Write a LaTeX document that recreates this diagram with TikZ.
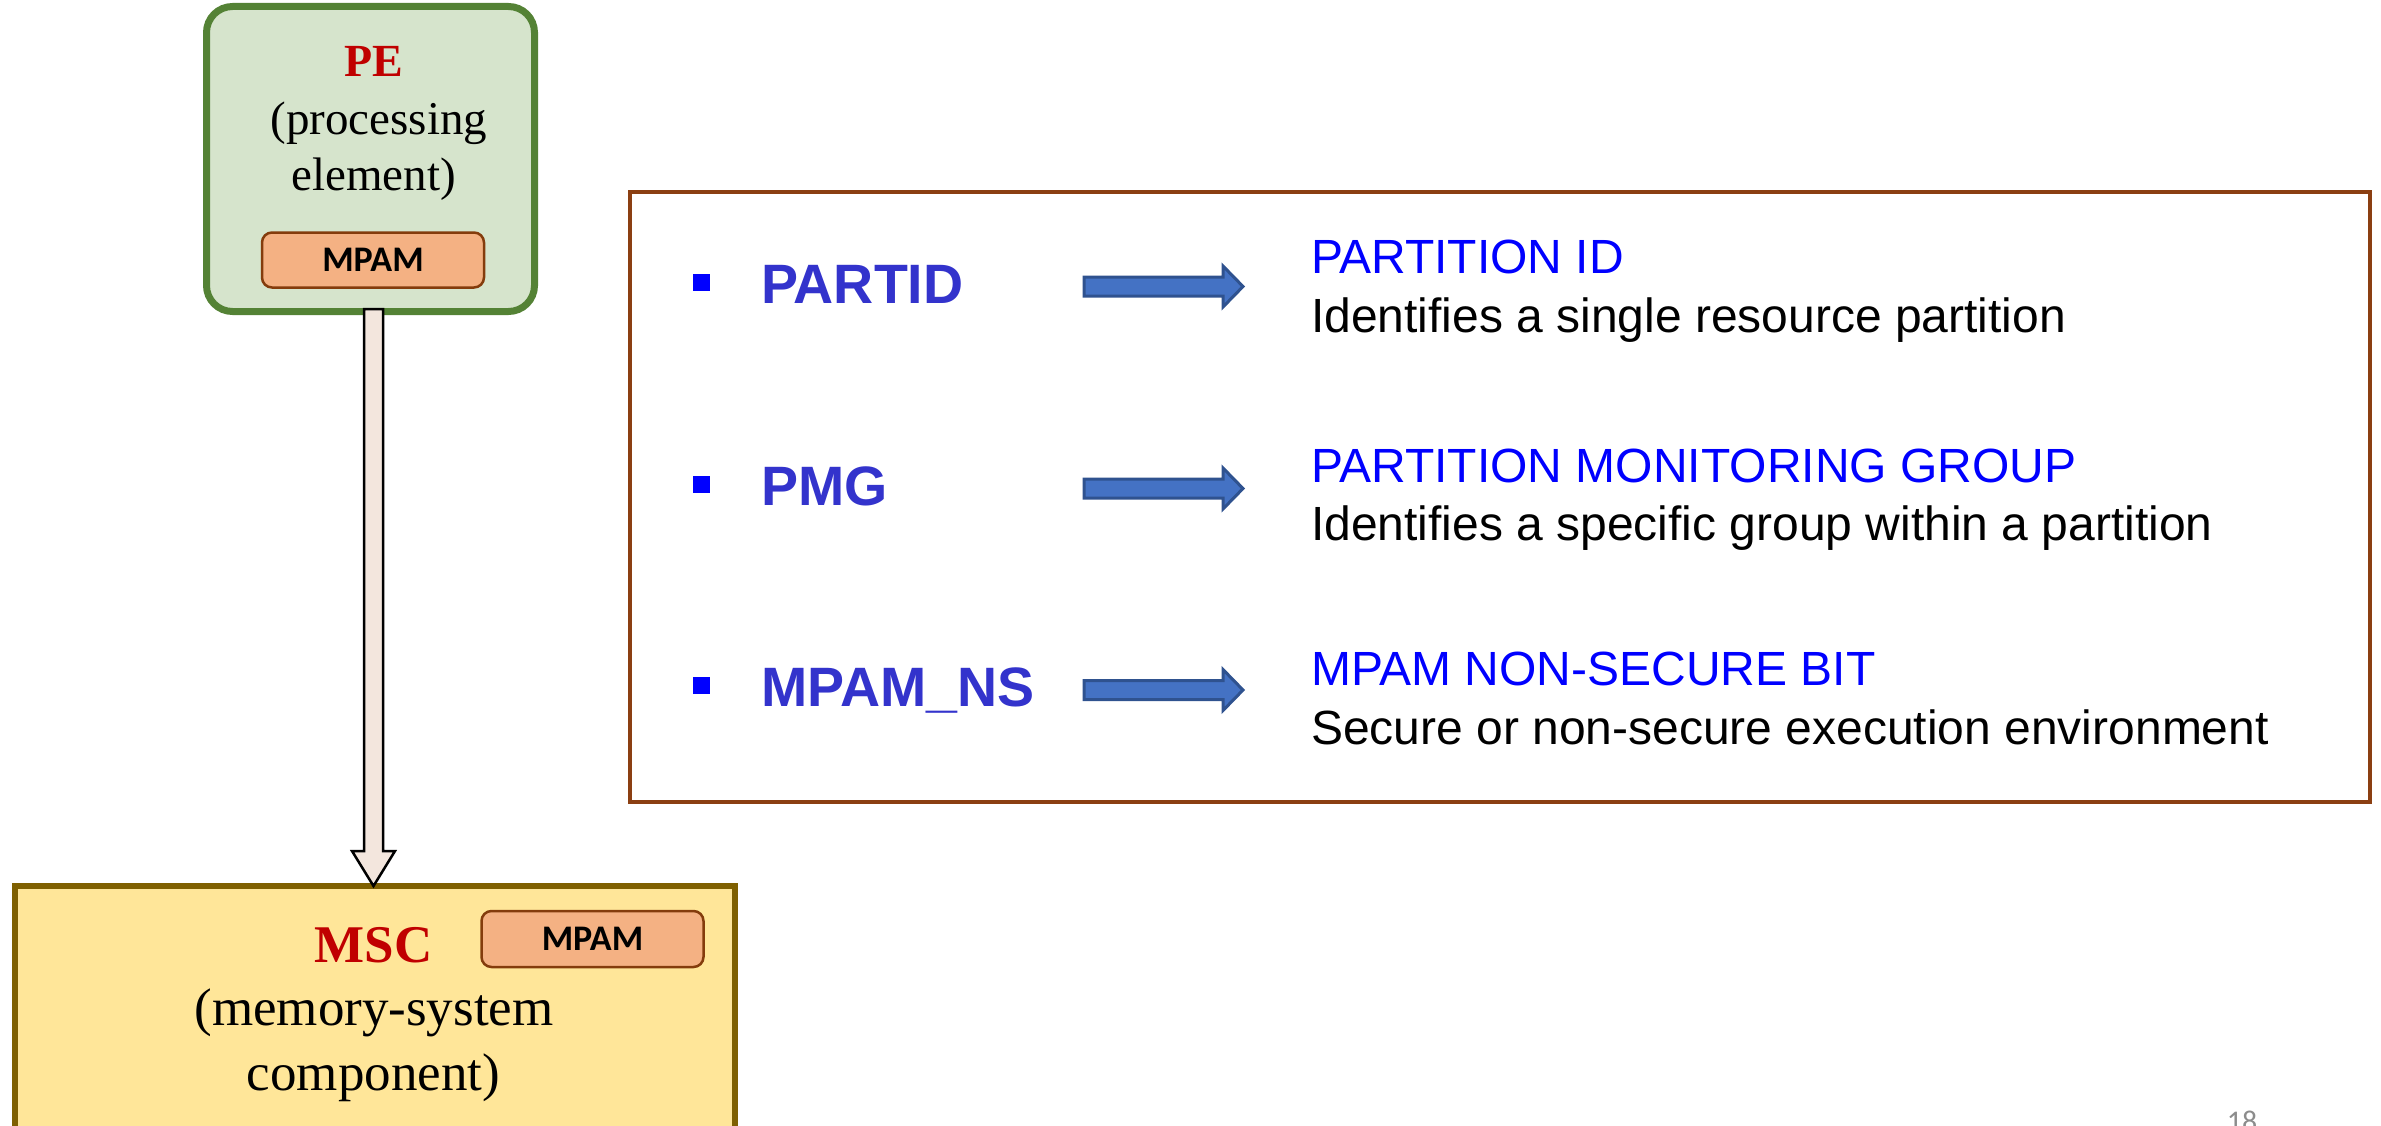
\documentclass[tikz,border=0pt]{standalone}
\usepackage{fontspec}
\setmainfont{Liberation Serif}
\newfontfamily\arialf{Liberation Sans}
\newfontfamily\calibrif{Carlito}
\usetikzlibrary{calc}

\definecolor{peFill}{HTML}{D6E4CC}
\definecolor{peLine}{HTML}{548235}
\definecolor{mscFill}{HTML}{FFE699}
\definecolor{mscLine}{HTML}{7F6000}
\definecolor{mpamFill}{HTML}{F4B183}
\definecolor{mpamLine}{HTML}{843C0C}
\definecolor{flowFill}{HTML}{F3E6DD}
\definecolor{infoLine}{HTML}{8B3F12}
\definecolor{keyBlue}{HTML}{3333CC}
\definecolor{pureBlue}{HTML}{0000FF}
\definecolor{titleRed}{HTML}{C00000}
\definecolor{arrowFill}{HTML}{4472C4}
\definecolor{arrowLine}{HTML}{2F528F}
\definecolor{pageGray}{HTML}{8C8C8C}

\begin{document}
\begin{tikzpicture}[x=1pt,y=-1pt,
  every node/.style={inner sep=0pt, outer sep=0pt},
  pebox/.style={draw=peLine, fill=peFill, line width=7pt, rounded corners=26pt,
    minimum width=328pt, minimum height=305pt},
  mscbox/.style={draw=mscLine, fill=mscFill, line width=6pt,
    minimum width=720pt, minimum height=280pt},
  mpambox/.style={draw=mpamLine, fill=mpamFill, line width=2.5pt, rounded corners=10pt,
    minimum width=222pt, minimum height=55pt,
    font=\calibrif\bfseries\fontsize{36}{40}\selectfont},
  infobox/.style={draw=infoLine, line width=4pt, minimum width=1740pt, minimum height=610pt},
  petitle/.style={anchor=base, text=titleRed, font=\bfseries\fontsize{46}{50}\selectfont},
  petext/.style={anchor=base, font=\fontsize{47}{52}\selectfont},
  msctitle/.style={anchor=base, text=titleRed, font=\bfseries\fontsize{53}{58}\selectfont},
  msctext/.style={anchor=base, font=\fontsize{53}{58}\selectfont},
  bulletsq/.style={fill=pureBlue, minimum width=17pt, minimum height=17pt},
  keylabel/.style={anchor=base west, text=keyBlue, font=\arialf\bfseries\fontsize{55.5}{60}\selectfont},
  desctitle/.style={anchor=base west, text=pureBlue, font=\arialf\fontsize{48}{52}\selectfont},
  desctext/.style={anchor=base west, font=\arialf\fontsize{48}{52}\selectfont},
  flowarrow/.style={draw=black, fill=flowFill, line width=2.5pt, line join=miter},
  blockarrow/.style={draw=arrowLine, fill=arrowFill, line width=3pt, line join=miter}
]
\useasboundingbox (0,0) rectangle (2381,1126);

% processing element
\node[pebox] (pe) at (370.5,159) {};
\node[petitle] (peTitle) at (373.5,77) {PE};
\node[petext] (peLineA) at (379,135) {(processing};
\node[petext] (peLineB) at (373.5,190) {element)};
\node[mpambox] (peMpam) at (373,260) {MPAM};

% memory-system component
\node[mscbox] (msc) at (374.5,1026) {};
\node[msctitle] (mscTitle) at (373.5,962) {MSC};
\node[msctext] (mscLineA) at (374,1025) {(memory-system};
\node[msctext] (mscLineB) at (373.5,1090) {component)};
\node[mpambox, minimum height=56pt] (mscMpam) at (592.5,939) {MPAM};

% hollow arrow from PE down to MSC
\coordinate (atop) at ($(pe.south)+(3,-2.5)$);
\coordinate (atip) at (msc.north -| atop);
\draw[flowarrow] ($(atop)+(-9.5,0)$) -- ($(atip)+(-9.5,-35)$) -- ($(atip)+(-21.5,-35)$)
  -- (atip) -- ($(atip)+(21.5,-35)$) -- ($(atip)+(9.5,-35)$) -- ($(atop)+(9.5,0)$) -- cycle;

% field descriptions
\node[infobox] (info) at (1500,497) {};

\node[bulletsq] (b1) at (701.5,282) {};
\node[bulletsq] (b2) at (701.5,484) {};
\node[bulletsq] (b3) at (701.5,685.5) {};

\node[keylabel] (k1) at (761,303) {PARTID};
\node[keylabel] (k2) at (761,505) {PMG};
\node[keylabel] (k3) at (761,706) {MPAM\_NS};

\node[desctitle] (t1) at (1311,273) {PARTITION ID};
\node[desctext] (d1) at (1311,332) {Identifies a single resource partition};
\node[desctitle] (t2) at (1311,482) {PARTITION MONITORING GROUP};
\node[desctext] (d2) at (1311,540) {Identifies a specific group within a partition};
\node[desctitle] (t3) at (1311,685) {MPAM NON-SECURE BIT};
\node[desctext] (d3) at (1311,744) {Secure or non-secure execution environment};

% block arrows between each field and its meaning
\foreach \yc [count=\i] in {286.5,488.5,690}{
  \coordinate (as\i) at (1084,\yc);
  \coordinate (ae\i) at (1243,\yc);
  \draw[blockarrow] ($(as\i)+(0,-9.5)$) -- ($(ae\i)+(-20,-9.5)$) -- ($(ae\i)+(-20,-20.5)$)
    -- (ae\i) -- ($(ae\i)+(-20,20.5)$) -- ($(ae\i)+(-20,9.5)$) -- ($(as\i)+(0,9.5)$) -- cycle;
}

% page number
\node[anchor=base, text=pageGray, font=\calibrif\fontsize{30}{34}\selectfont] (pageNo) at (2242,1131) {18};
\end{tikzpicture}
\end{document}
